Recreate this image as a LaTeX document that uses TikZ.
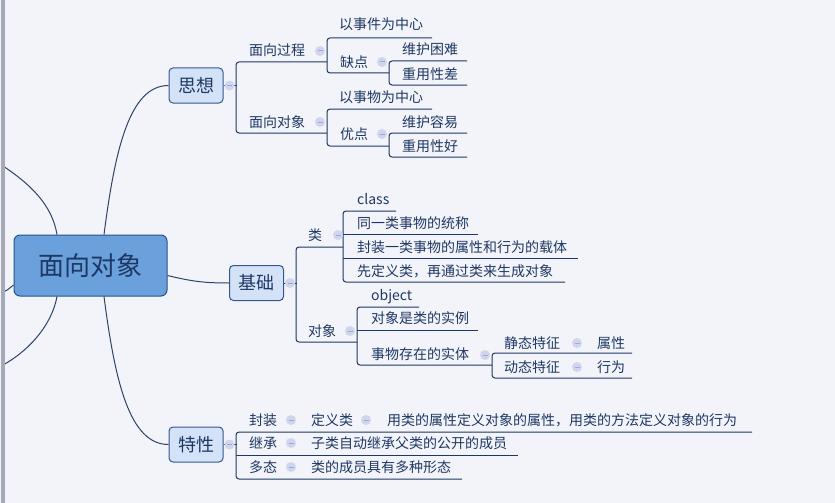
\documentclass[tikz,border=0pt]{standalone}
\usepackage{fontspec}
\setmainfont{Noto Sans CJK SC}
\usetikzlibrary{calc}
\definecolor{navy}{RGB}{30,56,100}
\definecolor{rootblue}{RGB}{106,160,220}
\definecolor{rootedge}{RGB}{40,82,138}
\definecolor{subblue}{RGB}{212,226,248}
\definecolor{subedge}{RGB}{52,88,140}
\definecolor{paper}{RGB}{243,244,249}
\definecolor{markfill}{RGB}{208,213,238}
\definecolor{markdash}{RGB}{160,168,210}
\definecolor{sidebar}{RGB}{166,169,182}

\tikzset{
  txt/.style={text=navy,font=\fontsize{14}{16}\selectfont,inner sep=0pt,
    text height=11.5pt,text depth=1.5pt,anchor=west},
  rootbox/.style={fill=rootblue,draw=rootedge,line width=1pt,rounded corners=6pt,
    minimum width=153pt,minimum height=61pt,text=navy,font=\fontsize{26}{30}\selectfont},
  subbox/.style={fill=subblue,draw=subedge,line width=1pt,rounded corners=4pt,
    minimum width=54pt,minimum height=35pt,text=navy,font=\fontsize{18}{20}\selectfont},
  ln/.style={draw=navy,line width=1pt},
  curve/.style={draw=navy!85!gray,line width=1pt},
  mk/.style={circle,fill=markfill,minimum size=10pt,inner sep=0pt,
    path picture={\draw[markdash,line width=1pt]
      ([xshift=-2.5pt]path picture bounding box.center) --
      ([xshift=2.5pt]path picture bounding box.center);}}
}

\begin{document}
\begin{tikzpicture}[x=1pt,y=-1pt]
  \useasboundingbox[fill=paper] (0,0) rectangle (835,503);

  % root and main topics
  \node[rootbox] (root) at (90.5,265.5) {面向对象};
  \node[subbox] (sx) at (196,85.5) {思想};
  \node[subbox] (jc) at (256.5,283) {基础};
  \node[subbox] (tx) at (196,444.5) {特性};

  % branches to the right
  \draw[curve] ([xshift=13.5pt]root.north) .. controls +(11,-85) and +(-39,0) .. (sx.west);
  \draw[curve] ($(root.east)+(0,10)$) .. controls +(25,6) and +(-25,0) .. (jc.west);
  \draw[curve] ([xshift=13.5pt]root.south) .. controls +(11,85) and +(-39,0) .. (tx.west);

  % branches running off to the left
  \coordinate (lf1) at (3,166);
  \coordinate (lf2) at (3,292);
  \coordinate (lf3) at (3,365);
  \draw[curve] ([xshift=-33.5pt]root.north) .. controls +(-5,-30) and +(27,18) .. (lf1);
  \draw[curve] ([yshift=-19.5pt]root.west) .. controls +(-5,4) and +(5,-2) .. (lf2);
  \draw[curve] ([xshift=-33.5pt]root.south) .. controls +(-6,32) and +(22,-12) .. (lf3);
  \fill[sidebar] (1,0) rectangle (4.5,503);

  % brackets with first and last underline
  \foreach \bx/\ya/\yb/\ea/\eb in {236/62/133/327/327, 327/38/73/432/389,
      389/61/85/467/467, 327/109/146/432/389, 389/133/157/467/467,
      296/247/342/343/357, 343/211/282/396/565, 357/307/365/419/492,
      492/353/378/632/632, 236/432/479/752/462}{
    \draw[ln,rounded corners=3pt] (\ea,\ya) -- (\bx,\ya) -- (\bx,\yb) -- (\eb,\yb);
  }
  % underlines in between
  \foreach \bx/\y/\e in {343/234/478, 343/258/578, 357/330/478, 236/455/518}{
    \draw[ln] (\bx,\y) -- (\e,\y);
  }

  % main topics to their brackets
  \foreach \n in {sx,jc,tx}{
    \draw[ln] (\n.east) -- +(13,0);
    \node[mk] (mk-\n) at ([xshift=6pt]\n.east) {};
  }

  % topic texts
  \foreach \n/\x/\y/\t in {sx1/249/51/面向过程, sx2/249/122/面向对象,
      sx11/339/25/以事件为中心, sx12/340/62/缺点, sx121/402/50/维护困难,
      sx122/402/74/重用性差, sx21/339/97/以事物为中心, sx22/340/134/优点,
      sx221/402/122/维护容易, sx222/402/146/重用性好,
      jc1/308/235/类, jc2/308/331/对象, jc11/357/199/class,
      jc12/357/223/同一类事物的统称, jc13/357/247/封装一类事物的属性和行为的载体,
      jc14/357/271/先定义类，再通过类来生成对象, jc21/371/295/object,
      jc22/371/318/对象是类的实例, jc23/371/354/事物存在的实体,
      jc231/504/343/静态特征, jc232/504/367/动态特征,
      jc2311/597/343/属性, jc2321/597/367/行为,
      tx1/249/420/封装, tx2/249/443/继承, tx3/249/467/多态,
      tx11/311/420/定义类, tx111/387/420/用类的属性定义对象的属性，用类的方法定义对象的行为,
      tx21/311/443/子类自动继承父类的公开的成员, tx31/311/467/类的成员具有多种形态}{
    \node[txt] (\n) at (\x,\y) {\t};
  }

  % collapse markers
  \foreach \x/\y [count=\k] in {320/51, 382/62, 320/122, 382/134, 338/235,
      350/331, 485/355, 577/343, 577/367, 291/420, 366/420, 291/443, 291/467}{
    \node[mk] (mk\k) at (\x,\y) {};
  }
\end{tikzpicture}
\end{document}
